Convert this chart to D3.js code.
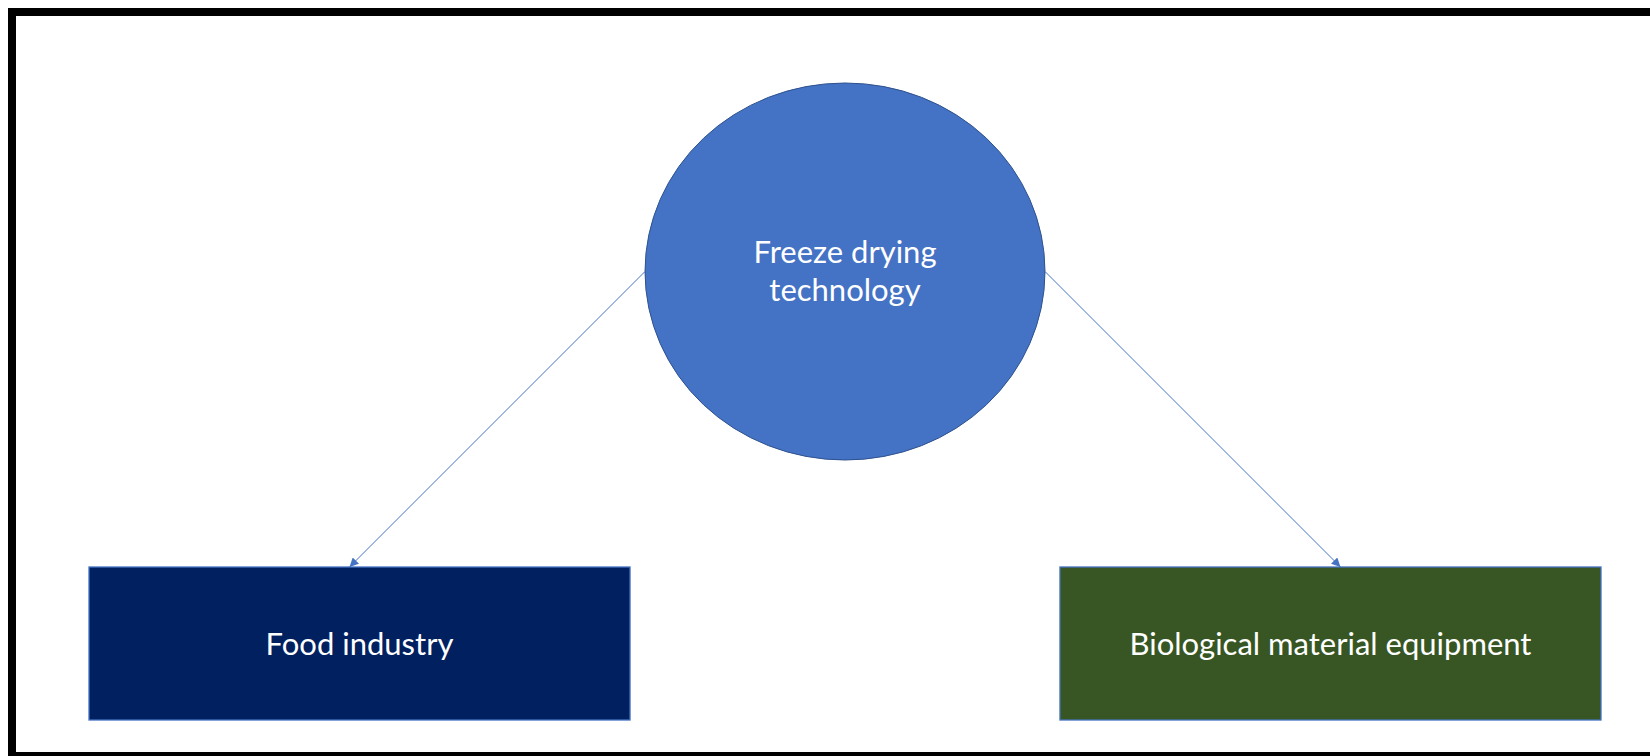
<!DOCTYPE html>
<html>
<head>
<meta charset="utf-8">
<script src="https://cdn.jsdelivr.net/npm/d3@7"></script>
<style>
  body { margin: 0; background: #fff; }
  text { font-family: Lato, "Open Sans", sans-serif; fill: #fff; }
</style>
</head>
<body>
<div id="vis"></div>
<script>
// nodos del diagrama
const raiz = ["Freeze drying", "technology"];
const hijos = ["Food industry", "Biological material equipment"];
const coloresHijos = ["#002060", "#375623"];

const W = 1650, H = 756;

const SVG = d3.select("#vis")
  .append("svg")
  .attr("width", W)
  .attr("height", H);

// marco negro (sin borde derecho visible)
SVG.append("rect")
  .attr("x", 12)
  .attr("y", 12)
  .attr("width", W + 20)
  .attr("height", 744)
  .attr("fill", "none")
  .attr("stroke", "#000")
  .attr("stroke-width", 8);

// escala de bandas para las cajas de abajo
const escalaX = d3.scaleBand()
  .domain(hijos)
  .range([89, 1601])
  .paddingInner(0.4428);

const cx = 845, cy = 271.5, rx = 200, ry = 188.5;
const topCaja = 567, altoCaja = 153;

SVG.append("defs").append("marker")
  .attr("id", "flecha")
  .attr("viewBox", "0 0 10 10")
  .attr("refX", 10)
  .attr("refY", 5)
  .attr("markerWidth", 11)
  .attr("markerHeight", 9)
  .attr("markerUnits", "userSpaceOnUse")
  .attr("orient", "auto")
  .append("path")
  .attr("d", "M0,0 L10,5 L0,10 z")
  .attr("fill", "#4472C4");

// flechas desde los costados del círculo, a 45 grados
SVG.selectAll("line.flecha")
  .data(hijos)
  .join("line")
  .attr("class", "flecha")
  .attr("x1", (d, i) => i === 0 ? cx - rx : cx + rx)
  .attr("y1", cy)
  .attr("x2", (d, i) => i === 0 ? cx - rx - (topCaja - cy) : cx + rx + (topCaja - cy))
  .attr("y2", topCaja)
  .attr("stroke", "#4472C4")
  .attr("stroke-width", 1)
  .attr("marker-end", "url(#flecha)");

// círculo central
SVG.append("ellipse")
  .attr("cx", cx)
  .attr("cy", cy)
  .attr("rx", rx)
  .attr("ry", ry)
  .attr("fill", "#4472C4")
  .attr("stroke", "#2F528F")
  .attr("stroke-width", 1);

SVG.append("text")
  .attr("x", cx)
  .attr("text-anchor", "middle")
  .style("font-size", "31px")
  .selectAll("tspan")
  .data(raiz)
  .join("tspan")
  .attr("x", cx)
  .attr("y", (d, i) => 263 + i * 38)
  .text(d => d);

// cajas
const grupos = SVG.selectAll("g.caja")
  .data(hijos)
  .join("g")
  .attr("class", "caja")
  .attr("transform", d => `translate(${escalaX(d)}, ${topCaja})`);

grupos.append("rect")
  .attr("width", escalaX.bandwidth())
  .attr("height", altoCaja)
  .attr("fill", (d, i) => coloresHijos[i])
  .attr("stroke", "#4472C4")
  .attr("stroke-width", 1.3);

grupos.append("text")
  .attr("x", escalaX.bandwidth() / 2)
  .attr("y", altoCaja / 2 + 11)
  .attr("text-anchor", "middle")
  .style("font-size", "31px")
  .text(d => d);
</script>
</body>
</html>
